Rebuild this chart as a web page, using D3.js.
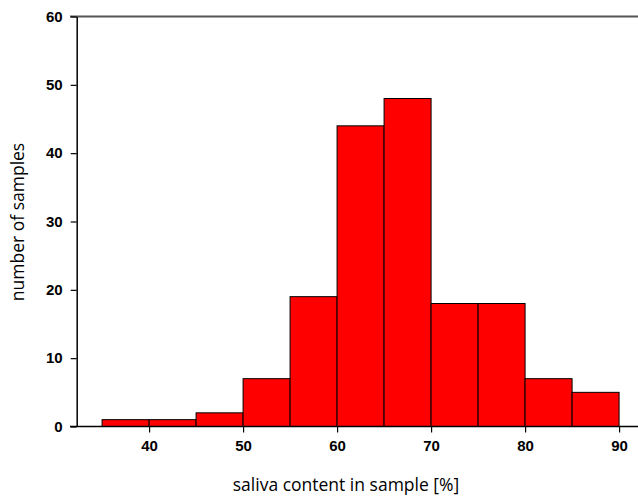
<!DOCTYPE html>
<html>
<head>
<meta charset="utf-8">
<script src="https://cdn.jsdelivr.net/npm/d3@7"></script>
<style>
  body { margin: 0; background: #fff; }
  svg { display: block; }
  .tick text { font-family: "Liberation Sans", Arial, sans-serif; font-weight: bold; font-size: 15px; fill: #000; }
  .title { font-family: "Open Sans", sans-serif; font-size: 17.5px; fill: #000; }
</style>
</head>
<body>
<div class="canvas"></div>
<script>

// bin edges (saliva content, %) and counts
var binStarts = [35, 40, 45, 50, 55, 60, 65, 70, 75, 80, 85];
var binWidth = 5;
var counts = [1, 1, 2, 7, 19, 44, 48, 18, 18, 7, 5];

var xTicks = [40, 50, 60, 70, 80, 90];
var yTicks = [0, 10, 20, 30, 40, 50, 60];

var width = 638, height = 497;

var svg = d3.select(".canvas")
  .append("svg")
  .attr("width", width)
  .attr("height", height);

var x = d3.scaleLinear().domain([32.3, 92.3]).range([76.7, 640.7]);
var y = d3.scaleLinear().domain([0, 60]).range([426.5, 16.5]);

// bars
svg.selectAll("rect.bar")
  .data(counts)
  .enter()
  .append("rect")
  .attr("class", "bar")
  .attr("x", function(d, i) { return x(binStarts[i]); })
  .attr("y", function(d) { return y(d); })
  .attr("width", function(d, i) { return x(binStarts[i] + binWidth) - x(binStarts[i]); })
  .attr("height", function(d) { return y(0) - y(d); })
  .attr("fill", "#ff0000")
  .attr("stroke", "#000")
  .attr("stroke-width", 1);

// top frame line
svg.append("line")
  .attr("x1", 70).attr("x2", width)
  .attr("y1", y(60)).attr("y2", y(60))
  .attr("stroke", "#555")
  .attr("stroke-width", 2);

// x axis
var xAxis = svg.append("g")
  .attr("transform", "translate(0," + y(0) + ")")
  .call(d3.axisBottom(x).tickValues(xTicks).tickSize(6).tickPadding(8).tickSizeOuter(0));
xAxis.select(".domain").remove();
xAxis.append("line")
  .attr("x1", 70).attr("x2", width)
  .attr("stroke", "#000").attr("stroke-width", 1.5);

// y axis
var yAxis = svg.append("g")
  .attr("transform", "translate(" + x(32.3) + ",0)")
  .call(d3.axisLeft(y).tickValues(yTicks).tickSize(6).tickPadding(8).tickSizeOuter(0));
yAxis.select(".domain").attr("stroke-width", 1.5);
yAxis.selectAll(".tick line").attr("stroke-width", 1.2);
xAxis.selectAll(".tick line").attr("stroke-width", 1.2);

// axis titles
svg.append("text")
  .attr("class", "title")
  .attr("x", 346).attr("y", 491)
  .attr("text-anchor", "middle")
  .text("saliva content in sample [%]");

svg.append("text")
  .attr("class", "title")
  .attr("transform", "translate(24,222)rotate(-90)")
  .attr("text-anchor", "middle")
  .text("number of samples");

</script>
</body>
</html>
